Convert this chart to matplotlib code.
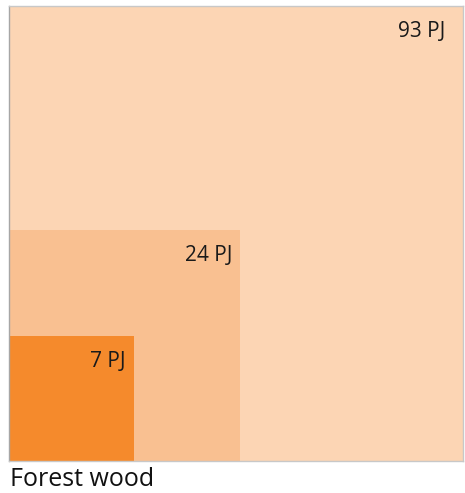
import matplotlib.pyplot as plt
from matplotlib.patches import Rectangle
import numpy as np

# Energy potential (PJ), drawn as squares with area proportional to value
labels = ['93 PJ', '24 PJ', '7 PJ']
values = [93, 24, 7]
colors = ['#FCD5B4', '#F9C091', '#F58A2C']
title = 'Forest wood'

# label inset from the top-right corner of each square (points)
label_dx = [-12.5, -5.5, -6]

fig = plt.figure(figsize=(4.65, 4.93), dpi=100)
ax = fig.add_axes([9 / 465, 32 / 493, 454 / 465, 455 / 493])

side_max = np.sqrt(max(values))
for lab, val, col, dx in zip(labels, values, colors, label_dx):
    s = np.sqrt(val)
    ax.add_patch(Rectangle((0, 0), s, s, facecolor=col, edgecolor='none'))
    ax.annotate(lab, xy=(s, s), xytext=(dx, -18.5), textcoords='offset points',
                ha='right', va='center', fontsize=15, color='#1a1a1a',
                family='Open Sans')

ax.set_xlim(0, side_max)
ax.set_ylim(0, side_max)
ax.set_xticks([])
ax.set_yticks([])
for sp in ax.spines.values():
    sp.set_color('#C8C8C8')
    sp.set_linewidth(1)
ax.spines['left'].set_color('#A6A6A6')

fig.text(10 / 465, 1 - 479 / 493, title, ha='left', va='center',
         fontsize=18, family='Open Sans', color='#111111')

fig.savefig('out.png', dpi=100, facecolor='white')
